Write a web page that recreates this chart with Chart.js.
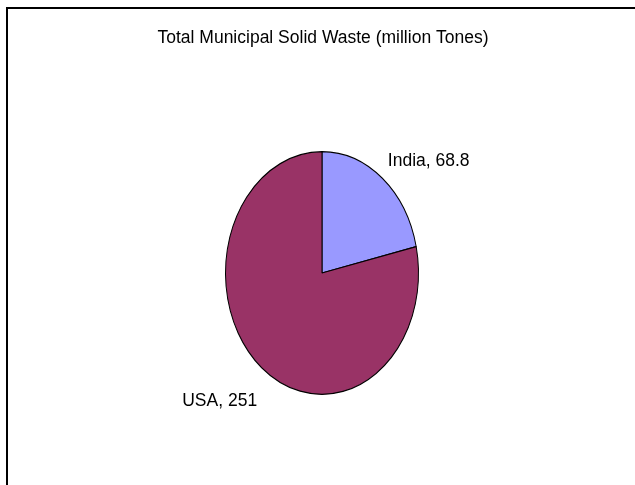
<!DOCTYPE html>
<html>
<head>
<meta charset="utf-8">
<script src="https://cdn.jsdelivr.net/npm/chart.js@4"></script>
<style>
  html, body { margin: 0; padding: 0; background: #fff; }
  #wrap { width: 635px; height: 485px; }
</style>
</head>
<body>
<div id="wrap"><canvas id="wasteChart" width="635" height="485"></canvas></div>
<script>
const countries = ['India', 'USA'];
const wasteTonnes = [68.8, 251];
const sliceColors = ['#9999FF', '#993366'];
const chartTitle = 'Total Municipal Solid Waste (million Tones)';

// the pie is drawn stretched vertically into an oval
const stretchY = 122 / 97;
// label baseline position, relative to where its slice meets the rim
const labelOffsets = [[5.5, -12], [-4.5, 38]];

const textFont = '17.5px "Liberation Sans", Arial, sans-serif';

// open frame along the top and left edges, plus the heading
const frame = {
    id: 'frame',
    beforeDraw(chart) {
        const c = chart.ctx;
        c.save();
        c.fillStyle = '#000';
        c.fillRect(6, 7, chart.width - 6, 2);
        c.fillRect(6, 7, 2, chart.height - 7);
        c.font = textFont;
        c.textAlign = 'center';
        c.textBaseline = 'alphabetic';
        c.fillText(chartTitle, 323, 43);
        c.restore();
    }
};

const ovalPie = {
    id: 'ovalPie',
    beforeDatasetsDraw(chart) {
        const arc = chart.getDatasetMeta(0).data[0];
        const c = chart.ctx;
        c.save();
        c.translate(arc.x, arc.y);
        c.scale(1, stretchY);
        c.translate(-arc.x, -arc.y);
    },
    afterDatasetsDraw(chart) {
        chart.ctx.restore();
    }
};

const sliceLabels = {
    id: 'sliceLabels',
    afterDraw(chart) {
        const c = chart.ctx;
        const arcs = chart.getDatasetMeta(0).data;
        c.save();
        c.font = textFont;
        c.fillStyle = '#000';
        c.textBaseline = 'alphabetic';
        arcs.forEach((arc, i) => {
            const mid = (arc.startAngle + arc.endAngle) / 2;
            const px = arc.x + Math.cos(mid) * arc.outerRadius;
            const py = arc.y + Math.sin(mid) * arc.outerRadius * stretchY;
            c.textAlign = Math.cos(mid) >= 0 ? 'left' : 'right';
            c.fillText(countries[i] + ', ' + wasteTonnes[i],
                px + labelOffsets[i][0], py + labelOffsets[i][1]);
        });
        c.restore();
    }
};

new Chart(document.getElementById('wasteChart'), {
    type: 'pie',
    data: {
        labels: countries,
        datasets: [{
            data: wasteTonnes,
            backgroundColor: sliceColors,
            borderColor: '#000',
            borderWidth: 1
        }]
    },
    options: {
        responsive: false,
        animation: false,
        layout: { padding: { left: 225, right: 216, top: 176, bottom: 115 } },
        plugins: {
            legend: { display: false },
            tooltip: { enabled: false },
            title: { display: false }
        }
    },
    plugins: [frame, ovalPie, sliceLabels]
});
</script>
</body>
</html>
